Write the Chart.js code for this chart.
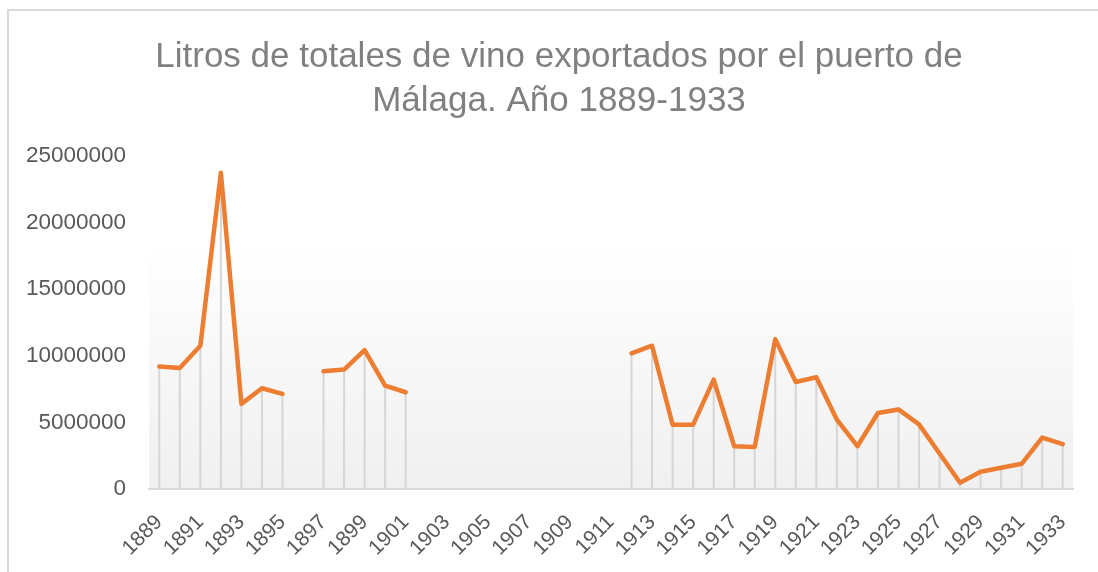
<!DOCTYPE html>
<html lang="es">
<head>
    <meta charset="UTF-8">
    <title>Litros de totales de vino exportados por el puerto de Málaga</title>
    <style>
        html, body { margin: 0; padding: 0; background: #fff; overflow: hidden; }
        #frame {
            position: absolute; left: 7px; top: 9px;
            width: 1120px; height: 600px;
            border-left: 2px solid #d9d9d9; border-top: 2px solid #d9d9d9;
            box-sizing: border-box;
        }
        #chart { display: block; }
    </style>
</head>
<body>
    <div id="frame"><canvas id="chart" width="1100" height="561"></canvas></div>
    <script src="https://cdn.jsdelivr.net/npm/chart.js"></script>
    <script>
        const years = [
            '1889', '1890', '1891', '1892', '1893', '1894', '1895', '1896', '1897', '1898',
            '1899', '1900', '1901', '1902', '1903', '1904', '1905', '1906', '1907', '1908',
            '1909', '1910', '1911', '1912', '1913', '1914', '1915', '1916', '1917', '1918',
            '1919', '1920', '1921', '1922', '1923', '1924', '1925', '1926', '1927', '1928',
            '1929', '1930', '1931', '1932', '1933'
        ];

        // litros exportados (null = sin dato)
        const litros = [
            9200000, 9080000, 10750000, 23730000, 6390000, 7560000, 7140000, null, 8830000, 8960000,
            10420000, 7760000, 7260000, null, null, null, null, null, null, null,
            null, null, null, 10180000, 10750000, 4830000, 4830000, 8210000, 3210000, 3160000,
            11240000, 8030000, 8380000, 5200000, 3210000, 5700000, 5970000, 4850000, 2660000, 470000,
            1290000, 1590000, 1890000, 3860000, 3360000
        ];

        const yTicks = [0, 5000000, 10000000, 15000000, 20000000, 25000000];

        const titleLines = ['Litros de totales de vino exportados por el puerto de', 'Málaga. Año 1889-1933'];

        // panel background: white fading to light grey
        const plotBackground = {
            id: 'plotBackground',
            beforeDraw(chart) {
                const { ctx, chartArea: a } = chart;
                const g = ctx.createLinearGradient(0, a.top, 0, a.bottom);
                g.addColorStop(0, '#ffffff');
                g.addColorStop(0.25, '#ffffff');
                g.addColorStop(1, '#f0f0f0');
                ctx.save();
                ctx.fillStyle = g;
                ctx.fillRect(a.left, a.top, a.right - a.left, a.bottom - a.top);
                ctx.restore();
            }
        };

        // vertical drop lines from each point down to the axis
        const dropLines = {
            id: 'dropLines',
            beforeDatasetsDraw(chart) {
                const ctx = chart.ctx;
                const meta = chart.getDatasetMeta(0);
                const base = chart.scales.y.getPixelForValue(0);
                ctx.save();
                ctx.strokeStyle = '#d6d6d6';
                ctx.lineWidth = 2;
                meta.data.forEach((pt, i) => {
                    if (litros[i] === null) return;
                    ctx.beginPath();
                    ctx.moveTo(pt.x, pt.y);
                    ctx.lineTo(pt.x, base);
                    ctx.stroke();
                });
                ctx.restore();
            }
        };

        new Chart(document.getElementById('chart'), {
            type: 'line',
            data: {
                labels: years,
                datasets: [{
                    label: 'Litros',
                    data: litros,
                    borderColor: '#ed7d31',
                    borderWidth: 4.5,
                    pointRadius: 0,
                    pointHoverRadius: 0,
                    tension: 0,
                    spanGaps: false,
                    borderCapStyle: 'round',
                    borderJoinStyle: 'round',
                    fill: false
                }]
            },
            options: {
                responsive: false,
                animation: false,
                layout: { padding: 0 },
                plugins: {
                    legend: { display: false },
                    tooltip: { enabled: false },
                    title: {
                        display: true,
                        text: titleLines,
                        color: '#808080',
                        font: { family: "'Liberation Sans', Arial, sans-serif", size: 35, weight: 'normal', lineHeight: 1.24 },
                        padding: { top: 25, bottom: 33 }
                    }
                },
                scales: {
                    x: {
                        offset: true,
                        grid: { display: false, drawTicks: false },
                        border: { display: true, color: '#d9d9d9', width: 2 },
                        ticks: {
                            autoSkip: false,
                            minRotation: 45,
                            maxRotation: 45,
                            padding: 21,
                            color: '#595959',
                            font: { family: "'Liberation Sans', Arial, sans-serif", size: 21 },
                            callback: (v, i) => (i % 2 === 0 ? years[i] : '')
                        },
                        afterFit(s) { s.height = 83; s.paddingRight = 36; }
                    },
                    y: {
                        min: yTicks[0],
                        max: yTicks[yTicks.length - 1],
                        grid: { display: false, drawTicks: false },
                        border: { display: false },
                        afterBuildTicks(s) { s.ticks = yTicks.map(v => ({ value: v })); },
                        afterFit(s) { s.width = 140; },
                        ticks: {
                            padding: 23,
                            color: '#595959',
                            font: { family: "'Liberation Sans', Arial, sans-serif", size: 22.5 },
                            callback: v => String(v)
                        }
                    }
                }
            },
            plugins: [plotBackground, dropLines]
        });
    </script>
</body>
</html>
